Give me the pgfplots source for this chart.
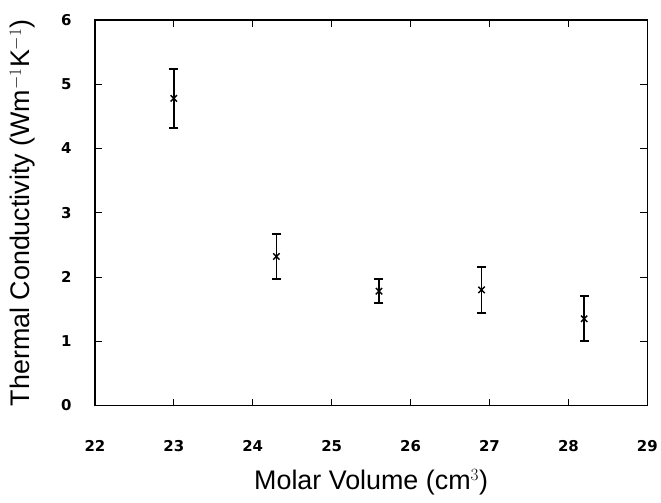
\documentclass[border=0pt]{standalone}
\usepackage{pgfplots}
\pgfplotsset{compat=1.18}
\usepackage{fontspec}
\setmainfont{Liberation Sans}
\newfontfamily\tickfont{DejaVu Sans}
\begin{document}
\begin{tikzpicture}
\begin{axis}[
  at={(0,0)}, anchor=south west,
  scale only axis, width=553bp, height=386bp,
  xmin=22, xmax=29, ymin=0, ymax=6,
  xtick={22,...,29}, ytick={0,...,6},
  tick align=inside, major tick length=7bp,
  tick style={black, line width=1pt},
  axis line style={line width=1.3pt},
  /pgf/number format/assume math mode=true,
  ticklabel style={font=\tickfont\fontsize{15}{18}\selectfont\bfseries},
  xticklabel style={yshift=-31bp},
  yticklabel style={xshift=-20bp},
  xlabel={Molar Volume (cm$^{3}$)},
  ylabel={Thermal Conductivity (Wm$^{-1}$K$^{-1}$)},
  label style={font=\fontsize{27}{30}\selectfont},
  xlabel style={at={(rel axis cs:0.5,0)}, anchor=north, yshift=-60bp},
  ylabel style={at={(rel axis cs:0,0.5)}, anchor=south, yshift=56bp},
]
\addplot[black, only marks, mark=x, mark size=4.5bp, line width=1.4pt,
  error bars/.cd, y dir=both, y explicit,
  error bar style={line width=1.5pt},
  error mark options={rotate=90, mark size=4.5bp, line width=2pt}]
  coordinates {
  (23.0,4.78) +- (0,0.46)
  (24.3,2.32) +- (0,0.35)
  (25.6,1.78) +- (0,0.19)
  (26.9,1.80) +- (0,0.36)
  (28.2,1.35) +- (0,0.35)
};
\end{axis}
\path[use as bounding box] (-95bp,-97bp) rectangle (566bp,406bp);
\end{tikzpicture}
\end{document}
